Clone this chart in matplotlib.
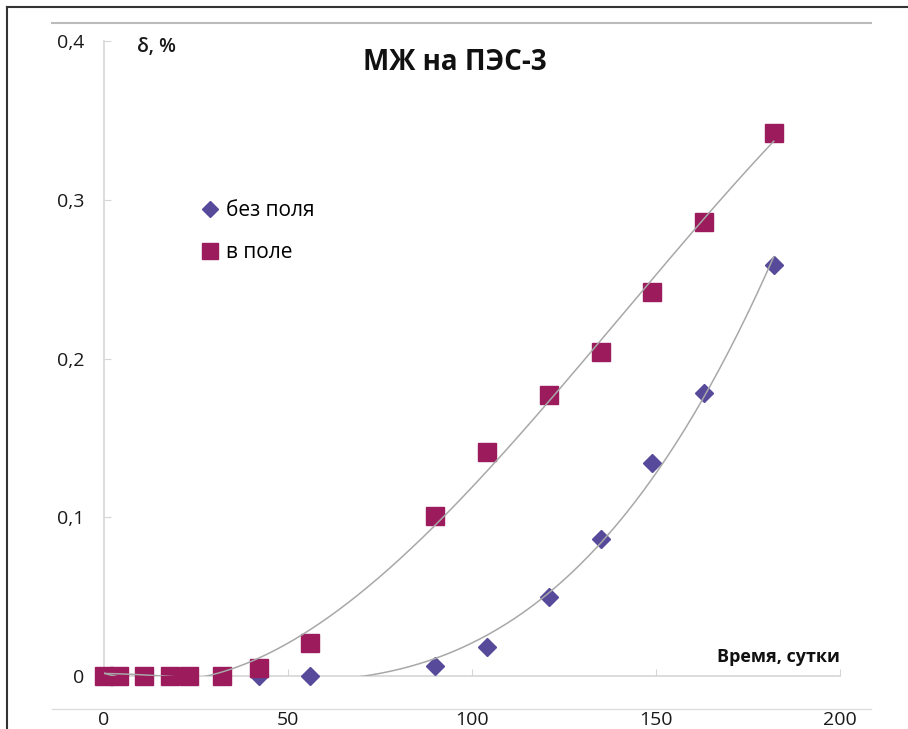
import numpy as np
import matplotlib.pyplot as plt
from matplotlib.lines import Line2D

plt.rcParams['font.family'] = ['Open Sans', 'DejaVu Sans']

# days of measurement
days = [0, 4, 11, 18, 23, 32, 42, 56, 90, 104, 121, 135, 149, 163, 182]
# relative change, %
no_field = [0, 0, 0, 0, 0, 0, 0, 0, 0.006, 0.018, 0.050, 0.086, 0.134, 0.178, 0.259]
in_field = [0, 0, 0, 0, 0, 0, 0.005, 0.021, 0.101, 0.141, 0.177, 0.204, 0.242, 0.286, 0.342]

yticks = [0, 0.1, 0.2, 0.3, 0.4]
ytick_labels = ['0', '0,1', '0,2', '0,3', '0,4']
xticks = [0, 50, 100, 150, 200]

W, H = 908, 729
fig = plt.figure(figsize=(W / 100, H / 100), dpi=100)
ax = fig.add_axes([104 / W, 1 - 676 / H, 736 / W, 635 / H])

purple = '#574a9b'
magenta = '#9c1b5c'
grey = '#d6d6d6'

ax.plot(days, no_field, ls='none', marker='D', ms=9.2, color=purple,
        clip_on=False, zorder=3, label='без поля')
ax.plot(days, in_field, ls='none', marker='s', ms=13, color=magenta,
        clip_on=False, zorder=4, label='в поле')

# polynomial trend lines
xx = np.linspace(0, 182, 300)
p1 = np.polyfit(days, no_field, 3)
p2 = np.polyfit(days, in_field, 3)
ax.plot(xx, np.polyval(p1, xx), color='#a8a8a8', lw=1.1, zorder=5)
ax.plot(xx, np.polyval(p2, xx), color='#a8a8a8', lw=1.1, zorder=5)

ax.set_xlim(0, 200)
ax.set_ylim(0, 0.4)
ax.set_xticks(xticks)
ax.set_yticks(yticks)
ax.set_yticklabels(ytick_labels)
for s in ['top', 'right']:
    ax.spines[s].set_visible(False)
for s in ['left', 'bottom']:
    ax.spines[s].set_color(grey)
    ax.spines[s].set_linewidth(1.2)
ax.tick_params(axis='both', direction='in', length=5, color=grey,
               labelsize=14, labelcolor='#1a1a1a')
ax.tick_params(axis='y', pad=14)
ax.tick_params(axis='x', pad=25)

leg = ax.legend(loc='upper left', bbox_to_anchor=(0.123, 0.762), frameon=False,
                fontsize=15, handlelength=0.7, handletextpad=0.4,
                labelspacing=1.0, borderaxespad=0, markerscale=0.85)

fig.text(455 / W, 1 - 62 / H, 'МЖ на ПЭС-3', ha='center', va='center',
         fontsize=20, fontweight='bold', color='#111111')
fig.text(137 / W, 1 - 47 / H, 'δ, %', ha='left', va='center',
         fontsize=14, fontweight='semibold', color='#1a1a1a')
fig.text(840 / W, 1 - 657 / H, 'Время, сутки', ha='right', va='center',
         fontsize=13, fontweight='bold', color='#111111')

# page frame
fig.add_artist(Line2D([7 / W, 7 / W], [0, 1 - 7 / H], transform=fig.transFigure,
                      color='#333333', lw=1.5))
fig.add_artist(Line2D([7 / W, 1], [1 - 7 / H, 1 - 7 / H], transform=fig.transFigure,
                      color='#333333', lw=1.5))
fig.add_artist(Line2D([52 / W, 871 / W], [1 - 23 / H, 1 - 23 / H],
                      transform=fig.transFigure, color='#bbbbbb', lw=1.5))
fig.add_artist(Line2D([52 / W, 871 / W], [1 - 709 / H, 1 - 709 / H],
                      transform=fig.transFigure, color='#dddddd', lw=1))

fig.savefig('out.png', dpi=100)
